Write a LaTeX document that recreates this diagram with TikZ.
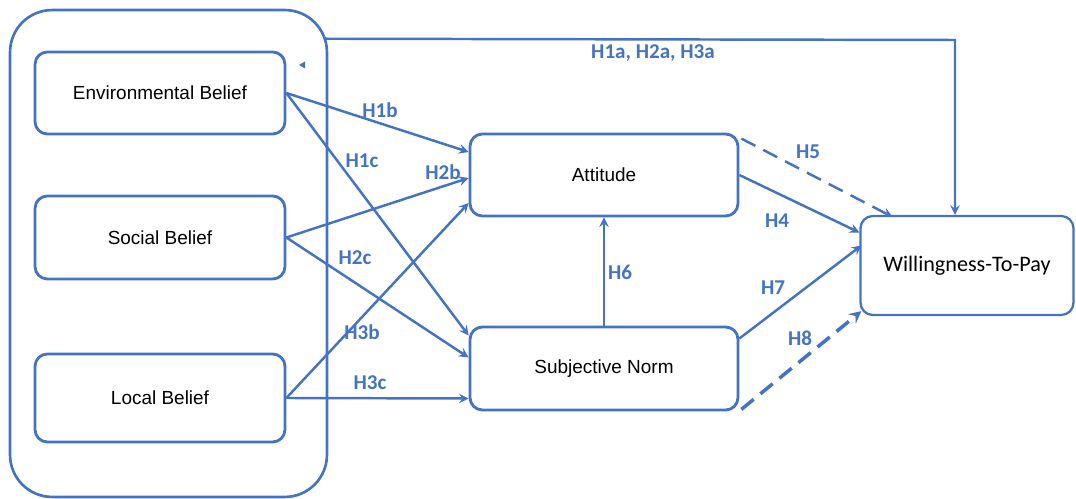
\documentclass[tikz,border=0pt]{standalone}
\usepackage{fontspec}
\setmainfont{Liberation Sans}
\newfontfamily\calfont{Carlito}
\usepackage{tikz}
\usetikzlibrary{calc}
\usetikzlibrary{arrows,shapes}
\definecolor{hblue}{RGB}{68,114,196}
\tikzstyle{belief}=[draw=hblue,line width=1.6pt,rounded corners=7pt,minimum width=5cm,text=black,font=\fontsize{10.8}{12}\selectfont]
\tikzstyle{hyp}=[draw=hblue,line width=1.4pt,->,>=stealth]
\tikzstyle{hlabel}=[text=hblue,font=\calfont\bfseries\fontsize{12}{14}\selectfont]

\begin{document}
\begin{tikzpicture}[x=0.02cm,y=-0.02cm]
\useasboundingbox (0,0) rectangle (1076,499);
\node[draw=hblue,line width=1.5pt,rounded corners=24pt,minimum width=6.34cm,minimum height=9.74cm] (outer) at (168.5,253.5) {};
\node[belief,minimum height=1.64cm] (env) at (160,93) {Environmental Belief};
\node[belief,minimum height=1.66cm] (soc) at (160,237.5) {Social Belief};
\node[belief,minimum height=1.76cm] (loc) at (160,398) {Local Belief};
\node[belief,minimum width=5.36cm,minimum height=1.64cm] (att) at (604,175) {Attitude};
\node[belief,minimum width=5.36cm,minimum height=1.66cm] (sn) at (604,368.5) {Subjective Norm};
\node[belief,line width=1.3pt,minimum width=4.26cm,minimum height=1.98cm,font=\calfont\fontsize{12.6}{14}\selectfont] (wtp) at (967,265.5) {Willingness-To-Pay};
\coordinate (top) at (955,40);
\draw[hyp] (env.east) -- ($(att.west)+(0,-23)$);
\draw[hyp] (env.east) -- ($(sn.west)+(0,-33)$);
\draw[hyp] (soc.east) -- ($(att.west)+(0,3)$);
\draw[hyp] (soc.east) -- ($(sn.west)+(0,-11)$);
\draw[hyp] (loc.east) -- ($(att.west)+(0,28)$);
\draw[hyp] (loc.east) -- ($(sn.west)+(0,30)$);
\draw[hyp] (att.east) -- ($(wtp.west)+(0,-33)$);
\draw[hyp,dashed,dash pattern=on 9pt off 5pt] ($(att.north east)+(2,6)$) -- ($(wtp.north west)+(33,2)$);
\draw[hyp] (sn.north) -- (att.south);
\draw[hyp] ($(sn.east)+(0,-30)$) -- ($(wtp.west)+(2,-20)$);
\draw[hyp,line width=2pt,dashed,dash pattern=on 9pt off 5pt] ($(sn.south east)+(2,-2)$) -- ($(wtp.south west)+(2,-5)$);
\draw[hyp] ($(outer.north east)+(-4,30)$) -- (top) -- ($(wtp.north)+(-12,0)$);
\fill[hblue] (299,65) -- (305,61.5) -- (305,68.5) -- cycle;
\node[hlabel] (l1a) at (653,53) {H1a, H2a, H3a};
\node[hlabel] (l1b) at (380,110) {H1b};
\node[hlabel] (l1c) at (362,161) {H1c};
\node[hlabel] (l2b) at (443,172) {H2b};
\node[hlabel] (l2c) at (355,258) {H2c};
\node[hlabel] (l3b) at (362,332) {H3b};
\node[hlabel] (l3c) at (370,383) {H3c};
\node[hlabel] (l4) at (777,221) {H4};
\node[hlabel] (l5) at (808,152) {H5};
\node[hlabel] (l6) at (620,272) {H6};
\node[hlabel] (l7) at (773,288) {H7};
\node[hlabel] (l8) at (800,338) {H8};
\end{tikzpicture}
\end{document}
